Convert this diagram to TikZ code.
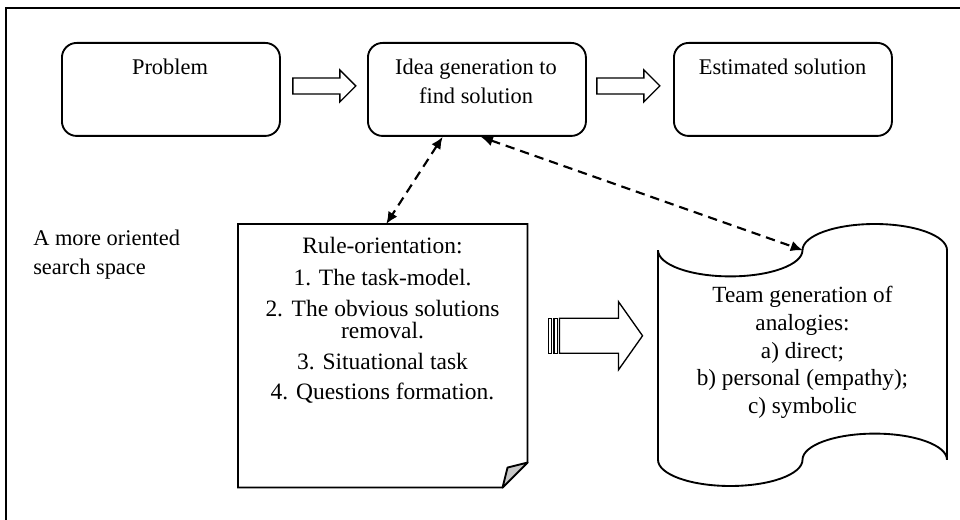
\documentclass[tikz,border=0pt]{standalone}
\usepackage{fontspec}
\setmainfont{Liberation Serif}
\usetikzlibrary{arrows.meta,calc}
% draws a hollow block arrow: #1 = tail centre, #2 = total length
\newcommand\blockarrow[2]{%
  \draw[hollow] (#1) ++(0,-8) -- ++({#2-16},0) -- ++(0,-8) -- ++(16,16)
    -- ++(-16,16) -- ++(0,-8) -- ++({-(#2-16)},0) -- cycle;}
\begin{document}
\begin{tikzpicture}[x=0.75pt,y=-0.75pt,
  every node/.style={font=\fontsize{16.8}{21}\selectfont, inner sep=0pt},
  roundbox/.style={draw, line width=1.4pt, rounded corners=11pt,
    minimum width=163.5pt, minimum height=69.75pt, anchor=north west},
  shapeline/.style={line width=1.4pt, line join=miter},
  hollow/.style={draw, line width=1pt, line join=miter, fill=white},
  link/.style={dash pattern=on 7pt off 4.5pt, line width=1.6pt,
    {Latex[length=9pt,width=8pt]}-{Latex[length=9pt,width=8pt]}},
  textline/.style={anchor=base},
  ruletext/.style={textline, font=\fontsize{17.6}{21}\selectfont},
  scrolltext/.style={textline, font=\fontsize{17.4}{21}\selectfont}]
\useasboundingbox (0,0) rectangle (960,520);
% outer frame
\draw[line width=1.5pt] (6,530) -- (6,8) -- (970,8);

% top row
\node (prob) [roundbox] at (61,42) {};
\node (idea) [roundbox] at (367,42) {};
\node (est)  [roundbox] at (673,42) {};
\node (prob-t) [textline] at (170,75) {Problem};
\node (idea-t1) [textline] at (476,75) {Idea generation to};
\node (idea-t2) [textline] at (476,104) {find solution};
\node (est-t) [textline] at (782.5,75) {Estimated solution};
\blockarrow{$(prob.east)+(12,-3.5)$}{63}
\blockarrow{$(idea.east)+(10,-3.5)$}{63}

% side label
\node (space1) [anchor=base west] at (33,246) {A more oriented};
\node (space2) [anchor=base west] at (33,275) {search space};

% rule-orientation sheet with folded corner
\node (rule) [minimum width=216.75pt, minimum height=197.25pt, anchor=north west]
  at (238,224) {};
\draw[shapeline] (rule.north west) -- (rule.north east)
  -- ($(rule.south east)+(0,-25)$) -- ($(rule.south east)+(-25,0)$)
  -- (rule.south west) -- cycle;
\draw[shapeline, fill=black!22, line join=round]
  ($(rule.south east)+(-25,0)$) -- ($(rule.south east)+(-20,-20)$)
  -- ($(rule.south east)+(0,-25)$) -- cycle;
\foreach \yy/\tt [count=\i] in {254/{Rule-orientation:},
    286/{1. The task-model.},
    316/{\makebox[175.5pt][s]{2. The obvious solutions}},
    339/{removal.}, 369/{3. Situational task}, 399/{4. Questions formation.}}
  \node (rule-t\i) [ruletext] at (382.5,\yy) {\tt};

% analogies scroll
\node (scroll) [minimum width=216.75pt, minimum height=196.5pt, anchor=north west]
  at (658,224) {};
\draw[shapeline] (658,250.2)
  .. controls (658,264.67) and (690.35,276.4) .. (730.25,276.4)
  .. controls (770.15,276.4) and (802.5,264.67) .. (802.5,250.2)
  .. controls (802.5,235.73) and (834.85,224) .. (874.75,224)
  .. controls (914.65,224) and (947,235.73) .. (947,250.2)
  -- (947,459.8)
  .. controls (947,445.33) and (914.65,433.6) .. (874.75,433.6)
  .. controls (834.85,433.6) and (802.5,445.33) .. (802.5,459.8)
  .. controls (802.5,474.27) and (770.15,486) .. (730.25,486)
  .. controls (690.35,486) and (658,474.27) .. (658,459.8)
  -- cycle;
\coordinate (scrolltop) at ($(scroll.north)+(0,26.2)$);
\foreach \yy/\tt [count=\i] in {302/{Team generation of}, 330/{analogies:},
    358/{a) direct;}, 385/{b) personal (empathy);}, 413/{c) symbolic}}
  \node (scroll-t\i) [scrolltext] at (802.5,\yy) {\tt};

% striped block arrow between the sheet and the scroll
\draw[hollow] ($(rule.east)+(20.7,-37.5)$) rectangle ++(3,35);
\draw[hollow] ($(rule.east)+(26.3,-37.5)$) rectangle ++(3.4,35);
\draw[hollow] ($(rule.east)+(32,-37.5)$) -- ++(59,0) -- ++(0,-16.5)
  -- ++(24,34) -- ++(-24,34) -- ++(0,-16.5) -- ++(-59,0) -- cycle;

% dashed two-way links
\draw[link] ($(idea.south west)!0.344!(idea.south east)$)
  -- ($(rule.north west)!0.512!(rule.north east)$);
\draw[link] ($(idea.south west)!0.518!(idea.south east)$) -- (scrolltop);
\end{tikzpicture}
\end{document}
